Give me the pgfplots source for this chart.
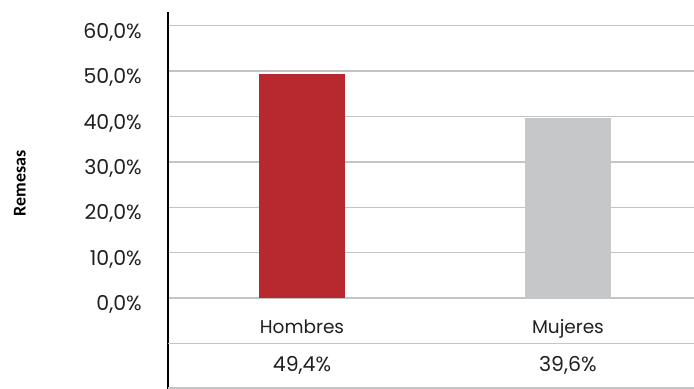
\documentclass[border=0pt]{standalone}
\usepackage{fontspec}
\setmainfont{Poppins}
\newfontfamily\labelfont{Carlito}
\usepackage{pgfplots}
\pgfplotsset{compat=1.18}
\definecolor{barred}{HTML}{B7282F}
\definecolor{bargray}{HTML}{C6C7C9}
\definecolor{gridgray}{HTML}{C4C4C4}
\definecolor{txt}{HTML}{231F20}
\begin{document}
\begin{tikzpicture}
\useasboundingbox (-168bp,0bp) rectangle (526bp,389bp);
\begin{axis}[
  at={(0,0)}, anchor=south west,
  scale only axis, width=526bp, height=377bp,
  xmin=-0.504, xmax=1.474, ymin=-20, ymax=63,
  axis x line=none,
  axis y line*=left,
  y axis line style={black, line width=2.5bp},
  xtick=\empty,
  ytick={0,10,...,60},
  major tick length=0pt,
  ymajorgrids,
  major grid style={gridgray, line width=1.5bp},
  extra y ticks={-10,-19.8},
  extra y tick labels={},
  extra y tick style={grid=major, major grid style={gridgray, line width=1.5bp}},
  /pgf/number format/assume math mode=true,
  yticklabel={\pgfmathprintnumber[fixed,fixed zerofill,precision=1,use comma]{\tick}\%},
  yticklabel style={inner sep=0pt, anchor=east, xshift=-26bp, yshift=-6.5bp, font=\fontsize{20.5bp}{22bp}\selectfont, text=txt},
  ylabel={Remesas},
  ylabel style={at={(axis description cs:-0.2814,0.545)}, anchor=center, rotate=0, font=\labelfont\bfseries\fontsize{18bp}{20bp}\selectfont, text=black},
  clip=false,
]
\addplot[ybar, bar shift=0pt, bar width=86bp, fill=barred, draw=none] coordinates {(0,49.4)};
\addplot[ybar, bar shift=0pt, bar width=86bp, fill=bargray, draw=none] coordinates {(1,39.6)};
\node[anchor=base, inner sep=0pt, text=txt, font=\fontsize{18.5bp}{20bp}\selectfont] at (axis cs:0,-7.78) {Hombres};
\node[anchor=base, inner sep=0pt, text=txt, font=\fontsize{18.5bp}{20bp}\selectfont] at (axis cs:1,-7.78) {Mujeres};
\node[anchor=base, inner sep=0pt, text=txt, font=\fontsize{20.5bp}{22bp}\selectfont] at (axis cs:0,-16.2) {49,4\%};
\node[anchor=base, inner sep=0pt, text=txt, font=\fontsize{20.5bp}{22bp}\selectfont] at (axis cs:1,-16.2) {39,6\%};
\end{axis}
\end{tikzpicture}
\end{document}
